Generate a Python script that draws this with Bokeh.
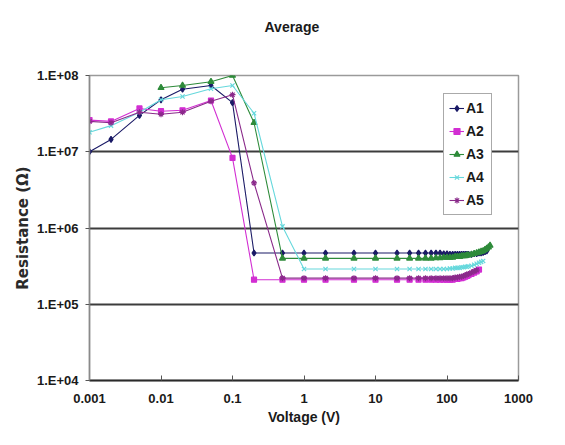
import numpy as np
from bokeh.plotting import figure
from bokeh.models import FixedTicker, Legend, LegendItem, Range1d, Title
from bokeh.embed import file_html
from bokeh.resources import INLINE

nan = np.nan

voltage = [0.001, 0.002, 0.005, 0.01, 0.02, 0.05, 0.1,
           0.2, 0.5, 1, 2, 5, 10,
           20, 30, 40, 50, 60, 70, 80, 90, 100,
           110, 120, 130, 140, 150, 160, 170, 180, 190, 200,
           220, 240, 260, 280, 300, 320, 340, 360, 380, 400]

a1 = [1.0e7, 1.45e7, 3.0e7, 4.8e7, 6.6e7, 7.4e7, 4.4e7,
      4.7e5, 4.7e5, 4.7e5, 4.7e5, 4.7e5, 4.7e5,
      4.7e5, 4.7e5, 4.7e5, 4.7e5, 4.7e5, 4.7e5, 4.7e5, 4.6e5, 4.6e5,
      4.5e5, 4.5e5, 4.5e5, 4.5e5, 4.5e5, 4.5e5, 4.5e5, 4.5e5, 4.5e5, 4.5e5,
      4.5e5, 4.6e5, 4.6e5, 4.7e5, 4.7e5, 4.8e5, 4.9e5, 5.0e5, nan, nan]

a2 = [2.6e7, 2.5e7, 3.7e7, 3.4e7, 3.5e7, 4.7e7, 8.3e6,
      2.1e5, 2.1e5, 2.1e5, 2.1e5, 2.1e5, 2.1e5,
      2.1e5, 2.1e5, 2.1e5, 2.1e5, 2.1e5, 2.1e5, 2.1e5, 2.1e5, 2.1e5,
      2.1e5, 2.1e5, 2.15e5, 2.15e5, 2.2e5, 2.2e5, 2.25e5, 2.3e5, 2.35e5, 2.4e5,
      2.5e5, 2.6e5, 2.7e5, 2.85e5, nan, nan, nan, nan, nan, nan]

a3 = [nan, nan, nan, 6.9e7, 7.4e7, 8.3e7, 1.0e8,
      2.4e7, 4.0e5, 4.0e5, 4.0e5, 4.0e5, 4.0e5,
      4.0e5, 4.0e5, 4.0e5, 4.0e5, 4.0e5, 4.05e5, 4.05e5, 4.1e5, 4.1e5,
      4.1e5, 4.1e5, 4.2e5, 4.2e5, 4.2e5, 4.3e5, 4.3e5, 4.3e5, 4.4e5, 4.4e5,
      4.5e5, 4.6e5, 4.7e5, 4.8e5, 4.9e5, 5.0e5, 5.2e5, 5.4e5, 5.6e5, 5.9e5]

a4 = [1.8e7, 2.2e7, 3.3e7, 4.8e7, 5.3e7, 6.7e7, 7.4e7,
      3.2e7, 1.05e6, 2.9e5, 2.9e5, 2.9e5, 2.9e5,
      2.9e5, 2.9e5, 2.9e5, 2.9e5, 2.9e5, 2.9e5, 2.9e5, 2.9e5, 2.9e5,
      2.95e5, 2.95e5, 3.0e5, 3.0e5, 3.0e5, 3.05e5, 3.05e5, 3.1e5, 3.1e5, 3.15e5,
      3.2e5, 3.3e5, 3.4e5, 3.5e5, 3.6e5, 3.7e5, nan, nan, nan, nan]

a5 = [2.5e7, 2.4e7, 3.3e7, 3.1e7, 3.3e7, 4.6e7, 5.6e7,
      3.9e6, 2.2e5, 2.2e5, 2.2e5, 2.2e5, 2.2e5,
      2.2e5, 2.2e5, 2.2e5, 2.2e5, 2.2e5, 2.2e5, 2.2e5, 2.2e5, 2.2e5,
      2.2e5, 2.2e5, 2.25e5, 2.25e5, 2.3e5, 2.3e5, 2.35e5, 2.4e5, 2.45e5, 2.5e5,
      2.6e5, 2.7e5, 2.8e5, nan, nan, nan, nan, nan, nan, nan]

series_names = ["A1", "A2", "A3", "A4", "A5"]
x_ticks = [0.001, 0.01, 0.1, 1, 10, 100, 1000]
x_tick_labels = ["0.001", "0.01", "0.1", "1", "10", "100", "1000"]
y_ticks = [1e4, 1e5, 1e6, 1e7, 1e8]
y_tick_labels = ["1.E+04", "1.E+05", "1.E+06", "1.E+07", "1.E+08"]
title_text = "Average"

FONT = "Liberation Sans"
TXT = "#1a1a1a"

p = figure(width=549, height=429, x_axis_type="log", y_axis_type="log",
           output_backend="svg", toolbar_location=None,
           x_range=Range1d(0.001, 1000), y_range=Range1d(1e4, 1e8),
           min_border_left=89, min_border_right=31,
           min_border_top=75, min_border_bottom=49)
p.background_fill_color = "white"
p.border_fill_color = "white"
p.outline_line_color = "#9a9a9a"
p.outline_line_width = 1.5

p.title.text = title_text
p.title.text_font = FONT
p.title.text_font_size = "14px"
p.title.text_font_style = "bold"
p.title.text_color = TXT
p.title.align = "left"
p.title.offset = 175
p.title.standoff = 0

# blank spacer between the title and the plot frame
spacer = Title(text=" ", text_font_size="14px", standoff=23)
p.add_layout(spacer, "above")

p.xgrid.visible = False
p.ygrid.ticker = FixedTicker(ticks=y_ticks)
p.ygrid.grid_line_color = "#3c3c3c"
p.ygrid.grid_line_width = 1.8

xa = p.xaxis[0]
xa.ticker = FixedTicker(ticks=x_ticks)
xa.major_label_overrides = {t: l for t, l in zip(x_ticks, x_tick_labels)}
xa.major_tick_in = 5
xa.major_tick_out = 0
xa.minor_tick_line_color = None
xa.axis_line_color = "#2a2a2a"
xa.axis_line_width = 1.8
xa.major_tick_line_color = "#555555"
xa.major_label_text_font = FONT
xa.major_label_text_font_size = "13px"
xa.major_label_text_font_style = "bold"
xa.major_label_text_color = TXT
xa.major_label_standoff = 13
xa.axis_label = "Voltage (V)"
xa.axis_label_text_font = FONT
xa.axis_label_text_font_size = "14px"
xa.axis_label_text_font_style = "bold"
xa.axis_label_text_color = TXT
xa.axis_label_standoff = 3

ya = p.yaxis[0]
ya.ticker = FixedTicker(ticks=y_ticks)
ya.major_label_overrides = {t: l for t, l in zip(y_ticks, y_tick_labels)}
ya.major_tick_in = 0
ya.major_tick_out = 4
ya.minor_tick_line_color = None
ya.axis_line_color = "#8a8a8a"
ya.axis_line_width = 1.5
ya.major_tick_line_color = "#555555"
ya.major_label_text_font = FONT
ya.major_label_text_font_size = "13px"
ya.major_label_text_font_style = "bold"
ya.major_label_text_color = TXT
ya.major_label_standoff = 7
ya.axis_label = "Resistance (Ω)"
ya.axis_label_text_font = "DejaVu Sans"
ya.axis_label_text_font_size = "15px"
ya.axis_label_text_font_style = "bold"
ya.axis_label_text_color = "#2a2a2a"
ya.axis_label_standoff = 2

colors = ["#1a1a66", "#d22ed2", "#2e8b3a", "#66d8dc", "#8a2a8a"]
markers = ["diamond", "square", "triangle", "x", "asterisk"]
sizes = [6, 5, 6, 6, 6]
data = [a1, a2, a3, a4, a5]

items = []
for name, ys, c, m, s in zip(series_names, data, colors, markers, sizes):
    r1 = p.line(voltage, ys, line_color=c, line_width=1.1)
    r2 = p.scatter(voltage, ys, marker=m, size=s, line_color=c, fill_color=c,
                   line_width=1.2)
    items.append(LegendItem(label=name, renderers=[r1, r2]))

legend = Legend(items=items, location=(354, 165))
legend.label_text_font = FONT
legend.label_text_font_size = "14px"
legend.label_text_font_style = "bold"
legend.label_text_color = TXT
legend.border_line_color = "#555555"
legend.border_line_width = 1.2
legend.background_fill_color = "white"
legend.background_fill_alpha = 1.0
legend.padding = 5
legend.spacing = 5
legend.glyph_width = 15
legend.glyph_height = 18
legend.label_height = 18
legend.label_standoff = 2
legend.margin = 0
p.add_layout(legend, "center")

open("out.html", "w").write(file_html(p, INLINE))
